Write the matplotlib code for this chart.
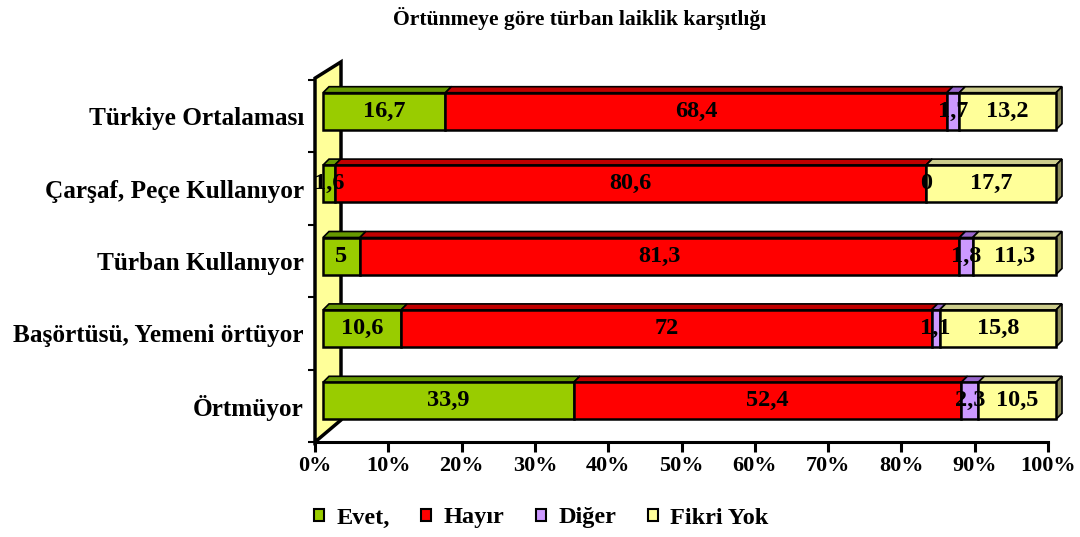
import matplotlib
matplotlib.use("Agg")
import matplotlib.pyplot as plt
from matplotlib.patches import Polygon, Patch
from matplotlib.transforms import ScaledTranslation
import numpy as np

plt.rcParams['font.family'] = ['Liberation Serif', 'DejaVu Serif']
plt.rcParams['font.weight'] = 'bold'

title = "Örtünmeye göre türban laiklik karşıtlığı"
categories = ["Türkiye Ortalaması", "Çarşaf, Peçe Kullanıyor", "Türban Kullanıyor",
              "Başörtüsü, Yemeni örtüyor", "Örtmüyor"]
series_names = ["Evet,", "Hayır", "Diğer", "Fikri Yok"]
evet = [16.7, 1.6, 5, 10.6, 33.9]
hayir = [68.4, 80.6, 81.3, 72, 52.4]
diger = [1.7, 0, 1.8, 1.1, 2.3]
fikri_yok = [13.2, 17.7, 11.3, 15.8, 10.5]
value_labels = [
    ["16,7", "68,4", "1,7", "13,2"],
    ["1,6", "80,6", "0", "17,7"],
    ["5", "81,3", "1,8", "11,3"],
    ["10,6", "72", "1,1", "15,8"],
    ["33,9", "52,4", "2,3", "10,5"],
]
x_ticks = [0, 10, 20, 30, 40, 50, 60, 70, 80, 90, 100]

front_colors = ["#99CC00", "#FF0000", "#CC99FF", "#FFFF99"]
top_colors = ["#669900", "#C00000", "#9966CC", "#CCCC8C"]
side_color = "#8C8C5A"

W, H = 1080, 537
fig = plt.figure(figsize=(W / 100, H / 100), dpi=100)
ax_l, ax_r, ax_b, ax_t = 315, 1048, 442, 80
ax = fig.add_axes([ax_l / W, 1 - ax_b / H, (ax_r - ax_l) / W, (ax_b - ax_t) / H])
ax.set_xlim(0, 100)
ax.set_ylim(-0.5, len(categories) - 0.5)

px_x = (ax_r - ax_l) / 100.0
px_y = (ax_b - ax_t) / len(categories)

# back wall
wall = Polygon([(0, 0), (0, 1.005), (26 / (ax_r - ax_l), 1.05), (26 / (ax_r - ax_l), 22 / (ax_b - ax_t))],
               closed=True, transform=ax.transAxes, facecolor="#FFFF99", edgecolor="black",
               linewidth=2.5, clip_on=False, zorder=1)
ax.add_patch(wall)

off = ax.transData + ScaledTranslation(8 / 100, 5 / 100, fig.dpi_scale_trans)
bar_h = 37 / px_y
dx = 6 / px_x
dy = 6 / px_y

data = np.array([evet, hayir, diger, fikri_yok], dtype=float)  # series x categories
totals = data.sum(axis=0)
norm = data / totals * 100
n = len(categories)
ys = np.arange(n)[::-1]

lefts = np.zeros(n)
for s in range(len(series_names)):
    bars = ax.barh(ys, norm[s], left=lefts, height=bar_h, color=front_colors[s], edgecolor="black",
                   linewidth=1.8, transform=off, zorder=3)
    for b in bars:
        b.set_clip_on(False)
    for i in range(n):
        l = lefts[i]
        r = l + norm[s][i]
        yt = ys[i] + bar_h / 2
        top = Polygon([(l, yt), (l + dx, yt + dy), (r + dx, yt + dy), (r, yt)], closed=True,
                      facecolor=top_colors[s], edgecolor="black", linewidth=1.2,
                      transform=off, zorder=2.5, clip_on=False)
        ax.add_patch(top)
    lefts = lefts + norm[s]

for i in range(n):
    r = lefts[i]
    yb = ys[i] - bar_h / 2
    yt = ys[i] + bar_h / 2
    side = Polygon([(r, yb), (r, yt), (r + dx, yt + dy), (r + dx, yb + dy)], closed=True,
                   facecolor=side_color, edgecolor="black", linewidth=1.2,
                   transform=off, zorder=2.5, clip_on=False)
    ax.add_patch(side)

# labels
lefts = np.zeros(n)
for s in range(len(series_names)):
    for i in range(n):
        cx = lefts[i] + norm[s][i] / 2
        ax.text(cx, ys[i], value_labels[i][s], ha="center", va="center", fontsize=17.5,
                fontweight="bold", transform=off, zorder=5, clip_on=False)
    lefts = lefts + norm[s]

for sp in ["top", "right", "left"]:
    ax.spines[sp].set_visible(False)
ax.spines["bottom"].set_linewidth(2.2)
ax.set_xticks(x_ticks)
ax.set_xticklabels([f"{t}%" for t in x_ticks], fontsize=16, fontweight="bold")
ax.tick_params(axis="x", direction="out", length=7, width=2.2, pad=3)
ax.set_yticks(ys)
ax.set_yticklabels(categories, fontsize=18.2, fontweight="bold")
ax.tick_params(axis="y", length=0, pad=8)
ax.set_yticks(np.arange(-0.5, n, 1.0), minor=True)
ax.tick_params(axis="y", which="minor", length=5, width=1.5, color="black")

fig.text(580 / W, 1 - 19 / H, title, ha="center", va="center", fontsize=15.6, fontweight="bold")

handles = [Patch(facecolor=c, edgecolor="black", linewidth=1.5) for c in front_colors]
fig.legend(handles, series_names, loc="center", bbox_to_anchor=(541 / W, 1 - 518 / H), ncol=4,
           frameon=False, prop={"size": 17.5, "weight": "bold"}, handlelength=0.42,
           handleheight=0.42, handletextpad=0.5, columnspacing=1.3)

fig.savefig("out.png", dpi=100)
